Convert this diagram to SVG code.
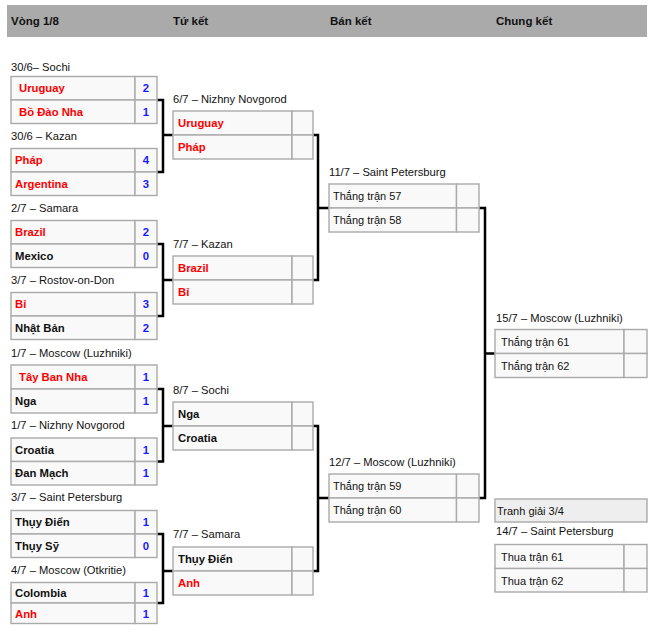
<svg xmlns="http://www.w3.org/2000/svg" width="660" height="635" viewBox="0 0 660 635">
<style>
text{font-family:"Liberation Sans",Arial,sans-serif}
.hd{font-size:11.5px;font-weight:bold;fill:#111}
.lb{font-size:11.2px;fill:#111}
.c{fill:#f9f9f9;stroke:#aaa;stroke-width:1.4}
.w{font-size:11.3px;font-weight:bold;fill:#ff0000}
.l{font-size:11.3px;font-weight:bold;fill:#111}
.s{font-size:11.3px;font-weight:bold;fill:#1a1aff;text-anchor:middle}
.t{font-size:11px;fill:#111}
.cn{fill:none;stroke:#000;stroke-width:2.5}
</style>
<rect x="7" y="5" width="640" height="32" fill="#aaaaaa"/>
<text class="hd" x="11" y="25">Vòng 1/8</text>
<text class="hd" x="173" y="25">Tứ kết</text>
<text class="hd" x="330" y="25">Bán kết</text>
<text class="hd" x="496" y="25">Chung kết</text>

<g id="connectors">
<path class="cn" d="M157,100 H163 V172 H157 M163,135 H173"/>
<path class="cn" d="M157,244 H163 V316 H157 M163,280 H173"/>
<path class="cn" d="M157,389 H163 V461.5 H157 M163,426 H173"/>
<path class="cn" d="M157,534 H163 V603 H157 M163,571 H173"/>
<path class="cn" d="M313,135 H318 V280 H313 M318,208 H329"/>
<path class="cn" d="M313,426 H318 V571 H313 M318,498 H329"/>
<path class="cn" d="M479,208 H485 V498 H479 M485,353.5 H495"/>
</g>

<g id="r16-1">
<text class="lb" x="11" y="71">30/6– Sochi</text>
<rect class="c" x="11" y="76.5" width="124" height="23.5"/><rect class="c" x="135" y="76.5" width="22" height="23.5"/>
<rect class="c" x="11" y="100" width="124" height="23.5"/><rect class="c" x="135" y="100" width="22" height="23.5"/>
<text class="w" x="19" y="92">Uruguay</text><text class="s" x="146" y="92">2</text>
<text class="w" x="19" y="115.5">Bồ Đào Nha</text><text class="s" x="146" y="115.5">1</text>
</g>
<g id="r16-2">
<text class="lb" x="11" y="140">30/6 – Kazan</text>
<rect class="c" x="11" y="148.5" width="124" height="23.5"/><rect class="c" x="135" y="148.5" width="22" height="23.5"/>
<rect class="c" x="11" y="172" width="124" height="23.5"/><rect class="c" x="135" y="172" width="22" height="23.5"/>
<text class="w" x="15" y="164">Pháp</text><text class="s" x="146" y="164">4</text>
<text class="w" x="15" y="187.5">Argentina</text><text class="s" x="146" y="187.5">3</text>
</g>
<g id="r16-3">
<text class="lb" x="11" y="212">2/7 – Samara</text>
<rect class="c" x="11" y="220.5" width="124" height="23.5"/><rect class="c" x="135" y="220.5" width="22" height="23.5"/>
<rect class="c" x="11" y="244" width="124" height="23.5"/><rect class="c" x="135" y="244" width="22" height="23.5"/>
<text class="w" x="15" y="236">Brazil</text><text class="s" x="146" y="236">2</text>
<text class="l" x="15" y="259.5">Mexico</text><text class="s" x="146" y="259.5">0</text>
</g>
<g id="r16-4">
<text class="lb" x="11" y="284">3/7 – Rostov-on-Don</text>
<rect class="c" x="11" y="292.5" width="124" height="23.5"/><rect class="c" x="135" y="292.5" width="22" height="23.5"/>
<rect class="c" x="11" y="316" width="124" height="23.5"/><rect class="c" x="135" y="316" width="22" height="23.5"/>
<text class="w" x="15" y="308">Bỉ</text><text class="s" x="146" y="308">3</text>
<text class="l" x="15" y="331.5">Nhật Bản</text><text class="s" x="146" y="331.5">2</text>
</g>
<g id="r16-5">
<text class="lb" x="11" y="357">1/7 – Moscow (Luzhniki)</text>
<rect class="c" x="11" y="365" width="124" height="24"/><rect class="c" x="135" y="365" width="22" height="24"/>
<rect class="c" x="11" y="389" width="124" height="24"/><rect class="c" x="135" y="389" width="22" height="24"/>
<text class="w" x="19" y="381">Tây Ban Nha</text><text class="s" x="146" y="381">1</text>
<text class="l" x="15" y="405">Nga</text><text class="s" x="146" y="405">1</text>
</g>
<g id="r16-6">
<text class="lb" x="11" y="429">1/7 – Nizhny Novgorod</text>
<rect class="c" x="11" y="438" width="124" height="23.5"/><rect class="c" x="135" y="438" width="22" height="23.5"/>
<rect class="c" x="11" y="461.5" width="124" height="23.5"/><rect class="c" x="135" y="461.5" width="22" height="23.5"/>
<text class="l" x="15" y="453.5">Croatia</text><text class="s" x="146" y="453.5">1</text>
<text class="l" x="15" y="477">Đan Mạch</text><text class="s" x="146" y="477">1</text>
</g>
<g id="r16-7">
<text class="lb" x="11" y="501">3/7 – Saint Petersburg</text>
<rect class="c" x="11" y="510.5" width="124" height="23.5"/><rect class="c" x="135" y="510.5" width="22" height="23.5"/>
<rect class="c" x="11" y="534" width="124" height="23.5"/><rect class="c" x="135" y="534" width="22" height="23.5"/>
<text class="l" x="15" y="526">Thụy Điển</text><text class="s" x="146" y="526">1</text>
<text class="l" x="15" y="549.5">Thụy Sỹ</text><text class="s" x="146" y="549.5">0</text>
</g>
<g id="r16-8">
<text class="lb" x="11" y="574">4/7 – Moscow (Otkritie)</text>
<rect class="c" x="11" y="582.5" width="124" height="20.5"/><rect class="c" x="135" y="582.5" width="22" height="20.5"/>
<rect class="c" x="11" y="603" width="124" height="20.5"/><rect class="c" x="135" y="603" width="22" height="20.5"/>
<text class="l" x="15" y="597">Colombia</text><text class="s" x="146" y="597">1</text>
<text class="w" x="15" y="617.5">Anh</text><text class="s" x="146" y="617.5">1</text>
</g>

<g id="qf-1">
<text class="lb" x="173" y="103">6/7 – Nizhny Novgorod</text>
<rect class="c" x="173" y="111" width="119" height="24"/><rect class="c" x="292" y="111" width="21" height="24"/>
<rect class="c" x="173" y="135" width="119" height="24"/><rect class="c" x="292" y="135" width="21" height="24"/>
<text class="w" x="178" y="127">Uruguay</text>
<text class="w" x="178" y="151">Pháp</text>
</g>
<g id="qf-2">
<text class="lb" x="173" y="248">7/7 – Kazan</text>
<rect class="c" x="173" y="256" width="119" height="24"/><rect class="c" x="292" y="256" width="21" height="24"/>
<rect class="c" x="173" y="280" width="119" height="24"/><rect class="c" x="292" y="280" width="21" height="24"/>
<text class="w" x="178" y="272">Brazil</text>
<text class="w" x="178" y="296">Bỉ</text>
</g>
<g id="qf-3">
<text class="lb" x="173" y="393.5">8/7 – Sochi</text>
<rect class="c" x="173" y="402" width="119" height="24"/><rect class="c" x="292" y="402" width="21" height="24"/>
<rect class="c" x="173" y="426" width="119" height="24"/><rect class="c" x="292" y="426" width="21" height="24"/>
<text class="l" x="178" y="418">Nga</text>
<text class="l" x="178" y="442">Croatia</text>
</g>
<g id="qf-4">
<text class="lb" x="173" y="538">7/7 – Samara</text>
<rect class="c" x="173" y="547" width="119" height="24"/><rect class="c" x="292" y="547" width="21" height="24"/>
<rect class="c" x="173" y="571" width="119" height="24"/><rect class="c" x="292" y="571" width="21" height="24"/>
<text class="l" x="178" y="563">Thụy Điển</text>
<text class="w" x="178" y="587">Anh</text>
</g>

<g id="sf-1">
<text class="lb" x="329" y="176">11/7 – Saint Petersburg</text>
<rect class="c" x="329" y="184" width="127.5" height="24"/><rect class="c" x="456.5" y="184" width="22.5" height="24"/>
<rect class="c" x="329" y="208" width="127.5" height="24"/><rect class="c" x="456.5" y="208" width="22.5" height="24"/>
<text class="t" x="333" y="200">Thắng trận 57</text>
<text class="t" x="333" y="224">Thắng trận 58</text>
</g>
<g id="sf-2">
<text class="lb" x="329" y="466">12/7 – Moscow (Luzhniki)</text>
<rect class="c" x="329" y="474" width="127.5" height="24"/><rect class="c" x="456.5" y="474" width="22.5" height="24"/>
<rect class="c" x="329" y="498" width="127.5" height="24"/><rect class="c" x="456.5" y="498" width="22.5" height="24"/>
<text class="t" x="333" y="490">Thắng trận 59</text>
<text class="t" x="333" y="514">Thắng trận 60</text>
</g>

<g id="final">
<text class="lb" x="496" y="321.5">15/7 – Moscow (Luzhniki)</text>
<rect class="c" x="495" y="329.5" width="129" height="24"/><rect class="c" x="624" y="329.5" width="23" height="24"/>
<rect class="c" x="495" y="353.5" width="129" height="24"/><rect class="c" x="624" y="353.5" width="23" height="24"/>
<text class="t" x="501" y="345.5">Thắng trận 61</text>
<text class="t" x="501" y="369.5">Thắng trận 62</text>
</g>

<g id="third-place">
<rect x="495" y="499" width="152" height="23" fill="#eeeeee" stroke="#aaa" stroke-width="1.4"/>
<text class="t" x="497" y="515">Tranh giải 3/4</text>
<text class="lb" x="496" y="535">14/7 – Saint Petersburg</text>
<rect class="c" x="495" y="544.5" width="129" height="24"/><rect class="c" x="624" y="544.5" width="23" height="24"/>
<rect class="c" x="495" y="568.5" width="129" height="23.5"/><rect class="c" x="624" y="568.5" width="23" height="23.5"/>
<text class="t" x="501" y="560.5">Thua trận 61</text>
<text class="t" x="501" y="584.5">Thua trận 62</text>
</g>
</svg>
